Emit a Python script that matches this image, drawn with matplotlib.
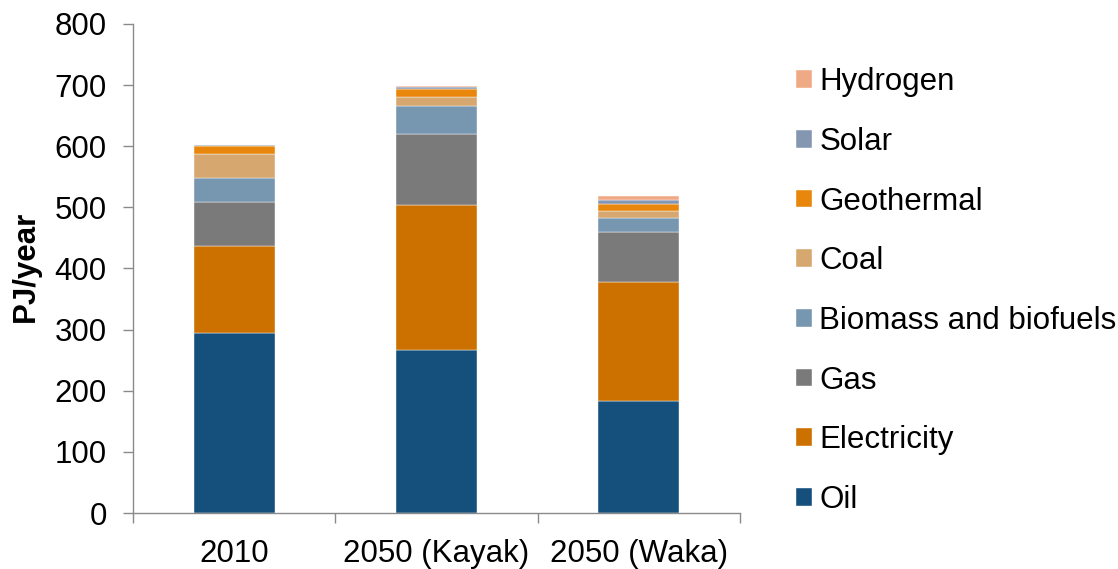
import matplotlib
matplotlib.use("Agg")
import matplotlib.pyplot as plt
import numpy as np

plt.rcParams['font.family'] = ['Liberation Sans', 'DejaVu Sans']

categories = ["2010", "2050 (Kayak)", "2050 (Waka)"]
series_names = ["Oil", "Electricity", "Gas", "Biomass and biofuels", "Coal",
                "Geothermal", "Solar", "Hydrogen"]
oil = [295, 266, 183]
electricity = [142, 237, 195]
gas = [71, 117, 82]
biomass = [40, 46, 22]
coal = [39, 15, 12]
geothermal = [14, 13, 12]
solar = [1, 3, 6]
hydrogen = [0, 2, 6]
series = [oil, electricity, gas, biomass, coal, geothermal, solar, hydrogen]
colors = ["#154f7b", "#cc7000", "#7a7a7a", "#7796b0", "#d6a76f",
          "#e8870b", "#8596b0", "#efa985"]
yticks = [0, 100, 200, 300, 400, 500, 600, 700, 800]

FS = 22.5

fig = plt.figure(figsize=(11.18, 5.69), dpi=100)
ax = fig.add_axes([0.119, 0.0984, 0.543, 0.8596])

x = np.arange(len(categories))
bottom = np.zeros(len(categories))
handles = []
for name, vals, c in zip(series_names, series, colors):
    v = np.array(vals, dtype=float)
    b = ax.bar(x, v, width=0.4, bottom=bottom, color=c, label=name,
               edgecolor="white", linewidth=0.3)
    handles.append(b)
    bottom += v

ax.set_xlim(-0.5, 2.5)
ax.set_ylim(0, 800)
ax.set_yticks(yticks)
ax.set_yticklabels([str(t) for t in yticks])
for s in ["top", "right"]:
    ax.spines[s].set_visible(False)
for s in ["left", "bottom"]:
    ax.spines[s].set_color("#8a8a8a")
    ax.spines[s].set_linewidth(1.0)

ax.set_xticks(x)
ax.set_xticklabels(categories)
ax.set_xticks([-0.5, 0.5, 1.5, 2.5], minor=True)
ax.tick_params(axis="x", which="major", length=0, pad=19, labelsize=FS)
ax.tick_params(axis="x", which="minor", length=7, width=1.0, color="#8a8a8a", direction="out")
ax.tick_params(axis="y", which="major", length=7, width=1.0, color="#8a8a8a",
               direction="out", pad=12, labelsize=FS)

fig.text(26 / 1118, 1 - 266 / 569, "PJ/year", rotation=90, ha="center", va="center",
         fontsize=22.5, fontweight="bold")

leg = fig.legend(handles[::-1], series_names[::-1], loc="upper left",
                 bbox_to_anchor=(0.712, 0.882), frameon=False, fontsize=FS,
                 handlelength=0.5, handleheight=0.5, handletextpad=0.25,
                 labelspacing=0.95, borderaxespad=0, borderpad=0)

fig.savefig("out.png", dpi=100)
